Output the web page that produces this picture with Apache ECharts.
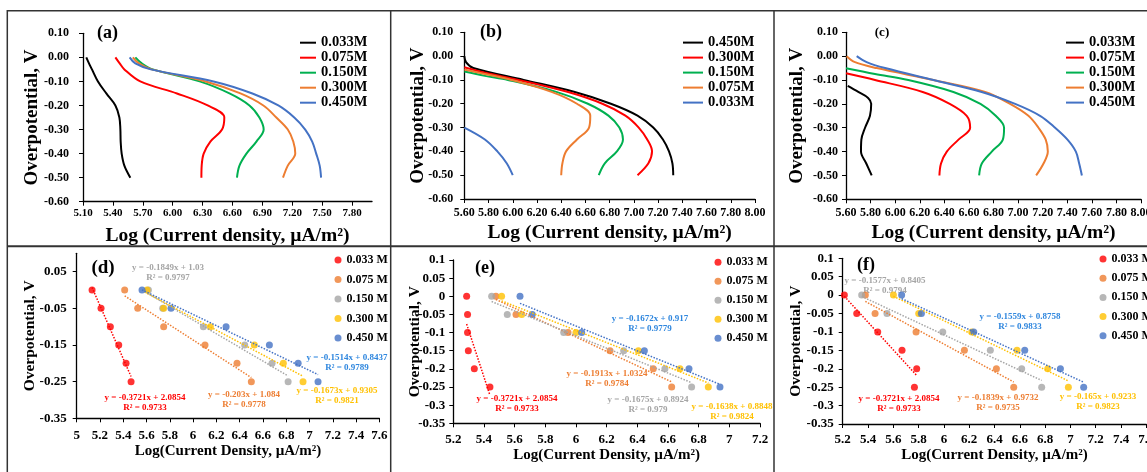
<!DOCTYPE html>
<html lang="en">
<head>
<meta charset="UTF-8">
<title>Tafel plots</title>
<script src="https://cdn.jsdelivr.net/npm/echarts@6/dist/echarts.min.js"></script>
<style>
  html, body { margin: 0; padding: 0; background: #fff; }
  #main { width: 1147px; height: 472px; }
</style>
</head>
<body>
<div id="main"></div>
<script>
// ---- data: top row curves (log current density vs overpotential) ----
// panel (a)
var aY = [0, -0.025, -0.05, -0.1, -0.15, -0.2, -0.25, -0.3, -0.35, -0.4, -0.45, -0.5];
var a033 = [5.133, 5.16, 5.19, 5.25, 5.334, 5.425, 5.465, 5.475, 5.478, 5.488, 5.515, 5.575];
var a075 = [5.425, 5.468, 5.515, 5.675, 6.043, 6.351, 6.518, 6.495, 6.378, 6.311, 6.291, 6.288];
var a150 = [5.625, 5.69, 5.8, 6.27, 6.57, 6.77, 6.87, 6.913, 6.84, 6.74, 6.67, 6.645];
var a300 = [5.60, 5.66, 5.79, 6.33, 6.68, 6.91, 7.04, 7.155, 7.21, 7.23, 7.155, 7.107];
var a450 = [5.568, 5.625, 5.78, 6.41, 6.80, 7.06, 7.22, 7.33, 7.40, 7.44, 7.475, 7.489];

// panel (b)
var b450Y = [0, -0.025, -0.05, -0.1, -0.15, -0.2, -0.25, -0.3, -0.35, -0.4, -0.45, -0.5];
var b450 = [5.60, 5.614, 5.674, 6.09, 6.505, 6.81, 7.03, 7.16, 7.24, 7.29, 7.318, 7.325];
var b300Y = [-0.047, -0.07, -0.1, -0.15, -0.2, -0.25, -0.3, -0.35, -0.4, -0.45, -0.5];
var b300 = [5.60, 5.77, 6.046, 6.45, 6.74, 6.93, 7.04, 7.11, 7.15, 7.12, 7.03];
var b150Y = [-0.065, -0.083, -0.1, -0.15, -0.2, -0.25, -0.3, -0.35, -0.4, -0.45, -0.5];
var b150 = [5.60, 5.77, 5.96, 6.36, 6.62, 6.79, 6.88, 6.91, 6.86, 6.76, 6.71];
var b075Y = [-0.056, -0.075, -0.1, -0.15, -0.2, -0.25, -0.3, -0.35, -0.4, -0.45, -0.5];
var b075 = [5.60, 5.77, 5.99, 6.32, 6.53, 6.64, 6.63, 6.53, 6.44, 6.41, 6.40];
var b033Y = [-0.3, -0.35, -0.4, -0.45, -0.5];
var b033 = [5.60, 5.77, 5.873, 5.95, 6.0];

// panel (c)
var c033Y = [-0.125, -0.15, -0.175, -0.2, -0.25, -0.3, -0.35, -0.4, -0.45, -0.5];
var c033 = [5.614, 5.70, 5.78, 5.805, 5.795, 5.755, 5.725, 5.722, 5.765, 5.809];
var c075Y = [-0.072, -0.1, -0.15, -0.2, -0.25, -0.3, -0.35, -0.4, -0.45, -0.5];
var c075 = [5.60, 5.836, 6.224, 6.444, 6.582, 6.61, 6.515, 6.42, 6.373, 6.36];
var c150Y = [-0.051, -0.075, -0.1, -0.15, -0.2, -0.25, -0.3, -0.35, -0.4, -0.45, -0.5];
var c150 = [5.60, 5.836, 6.107, 6.474, 6.694, 6.818, 6.886, 6.876, 6.786, 6.705, 6.683];
var c300Y = [0, -0.025, -0.05, -0.1, -0.15, -0.2, -0.25, -0.3, -0.35, -0.4, -0.45, -0.5];
var c300 = [5.605, 5.673, 5.85, 6.311, 6.732, 6.935, 7.084, 7.166, 7.225, 7.242, 7.207, 7.147];
var c450Y = [0, -0.025, -0.05, -0.1, -0.15, -0.2, -0.25, -0.3, -0.35, -0.4, -0.45, -0.5];
var c450 = [5.687, 5.768, 5.918, 6.311, 6.704, 6.976, 7.179, 7.301, 7.402, 7.47, 7.497, 7.519];

// ---- data: bottom row linear (Tafel) region points ----
var tafelY = [0, -0.05, -0.1, -0.15, -0.2, -0.25];
var d033 = [5.132, 5.209, 5.289, 5.361, 5.424, 5.467];
var d075 = [5.412, 5.524, 5.747, 6.102, 6.377, 6.50];
var d150 = [5.616, 5.739, 6.088, 6.443, 6.678, 6.816];
var d300 = [5.604, 5.747, 6.148, 6.526, 6.775, 6.944];
var d450 = [5.561, 5.81, 6.283, 6.655, 6.902, 7.073];

var e033 = [5.287, 5.293, 5.293, 5.298, 5.337, 5.439];
var e075 = [5.478, 5.609, 5.948, 6.222, 6.504, 6.624];
var e150 = [5.45, 5.552, 5.92, 6.311, 6.58, 6.754];
var e300 = [5.515, 5.646, 6.0, 6.407, 6.678, 6.863];
var e450 = [5.635, 5.715, 6.037, 6.446, 6.737, 6.939];

var f033 = [5.213, 5.311, 5.477, 5.669, 5.785, 5.767];
var f075 = [5.379, 5.456, 5.78, 6.162, 6.415, 6.552];
var f150 = [5.35, 5.55, 5.991, 6.367, 6.615, 6.773];
var f300 = [5.601, 5.801, 6.22, 6.578, 6.821, 6.984];
var f450 = [5.666, 5.822, 6.236, 6.639, 6.921, 7.105];

var topNames = ['0.033M', '0.075M', '0.150M', '0.300M', '0.450M'];
var botNames = ['0.033 M', '0.075 M', '0.150 M', '0.300 M', '0.450 M'];

// ---- styles ----
var FONT = 'Liberation Serif';
var BLACK = '#000000', RED = '#FF0000', GREEN = '#00B050', ORANGE = '#ED7D31', BLUE = '#4472C4';
var GRAY = '#A5A5A5', YELLOW = '#FFC000', BLUE_T = '#2E86DE';

function pairs(xs, ys) {
    return xs.map(function (x, i) { return [x, ys[i]]; });
}

// least squares line over the x range of the points, like an excel trendline
function trend(xs, ys) {
    var n = xs.length, mx = 0, my = 0, sxx = 0, sxy = 0;
    for (var i = 0; i < n; i++) { mx += xs[i] / n; my += ys[i] / n; }
    for (var j = 0; j < n; j++) {
        sxx += (xs[j] - mx) * (xs[j] - mx);
        sxy += (xs[j] - mx) * (ys[j] - my);
    }
    var k = sxy / sxx;
    var lo = Math.min.apply(null, xs), hi = Math.max.apply(null, xs);
    return [[lo, my + k * (lo - mx)], [hi, my + k * (hi - mx)]];
}

var chart = echarts.init(document.getElementById('main'));

var grids = [
    { left: 83, top: 33.3, width: 289, height: 168.4 },
    { left: 464.3, top: 32.3, width: 290.7, height: 166.7 },
    { left: 846, top: 32.3, width: 295, height: 167 },
    { left: 76.7, top: 253.3, width: 302.7, height: 165 },
    { left: 453.3, top: 260, width: 306.7, height: 163.3 },
    { left: 842.7, top: 258.3, width: 303.6, height: 165.7 }
].map(function (g) {
    g.containLabel = false;
    g.outerBoundsMode = 'none';
    return g;
});

function axisBase(idx, fs, margin) {
    return {
        gridIndex: idx,
        type: 'value',
        axisLine: { show: true, onZero: false, lineStyle: { color: '#000', width: 1.3 } },
        axisTick: { show: true, length: 4, lineStyle: { color: '#000', width: 1 } },
        axisLabel: { color: '#000', fontFamily: FONT, fontWeight: 'bold', fontSize: fs, margin: margin },
        splitLine: { show: false },
        nameLocation: 'middle',
        nameMoveOverlap: false,
        nameTextStyle: { color: '#000', fontFamily: FONT, fontWeight: 'bold' }
    };
}

function fixed2(v) { return v.toFixed(2); }

function topX(idx, min, max, interval, gap, fs, margin) {
    var a = axisBase(idx, fs, margin);
    a.min = min; a.max = max; a.interval = interval;
    a.axisLabel.formatter = fixed2;
    // 8.00 is not on the 0.3 grid of panel (a)
    a.axisLabel.showMaxLabel = interval !== 0.3;
    a.name = 'Log (Current density, µA/m²)';
    a.nameGap = gap;
    a.nameTextStyle.fontSize = 19.5;
    return a;
}
function topY(idx, gap, margin) {
    var a = axisBase(idx, 12, margin);
    a.min = -0.6; a.max = 0.1; a.interval = 0.1;
    a.axisLabel.formatter = fixed2;
    a.name = 'Overpotential, V';
    a.nameGap = gap;
    a.nameTextStyle.fontSize = 19;
    return a;
}
function botX(idx, min, max, gap, margin) {
    var a = axisBase(idx, 13, margin);
    a.min = min; a.max = max; a.interval = 0.2;
    a.name = 'Log(Current Density, µA/m²)';
    a.nameGap = gap;
    a.nameTextStyle.fontSize = 15;
    return a;
}
function botY(idx, interval, gap, margin) {
    var a = axisBase(idx, 13, margin);
    a.min = -0.35; a.max = 0.1; a.interval = interval;
    a.axisLabel.showMaxLabel = interval !== 0.1;
    a.name = 'Overpotential, V';
    a.nameGap = gap;
    a.nameTextStyle.fontSize = 15.5;
    return a;
}

var xAxes = [
    topX(0, 5.1, 8.0, 0.3, 24, 11, 6),
    topX(1, 5.6, 8.0, 0.2, 24, 12, 8),
    topX(2, 5.6, 8.0, 0.2, 24, 12, 8),
    botX(3, 5.0, 7.6, 25, 11),
    botX(4, 5.2, 7.2, 24, 10),
    botX(5, 5.2, 7.6, 24, 9)
];
var yAxes = [
    topY(0, 41, 14), topY(1, 37, 11), topY(2, 39, 8),
    botY(3, 0.1, 39, 10), botY(4, 0.05, 30, 8), botY(5, 0.05, 39, 9)
];

var series = [];
function curve(idx, name, xs, ys, color) {
    series.push({
        type: 'line', name: name, xAxisIndex: idx, yAxisIndex: idx,
        data: pairs(xs, ys), smooth: 0.35, symbol: 'none',
        lineStyle: { color: color, width: 2 }, itemStyle: { color: color }
    });
}
function tafel(idx, name, xs, color) {
    series.push({
        type: 'line', xAxisIndex: idx, yAxisIndex: idx, silent: true,
        data: trend(xs, tafelY), symbol: 'none',
        lineStyle: { color: color, width: 1.5, type: 'dotted' }
    });
    series.push({
        type: 'scatter', name: name, xAxisIndex: idx, yAxisIndex: idx,
        data: pairs(xs, tafelY), symbolSize: 7, itemStyle: { color: color }
    });
}

curve(0, topNames[0], a033, aY, BLACK);
curve(0, topNames[1], a075, aY, RED);
curve(0, topNames[2], a150, aY, GREEN);
curve(0, topNames[3], a300, aY, ORANGE);
curve(0, topNames[4], a450, aY, BLUE);

curve(1, topNames[4], b450, b450Y, BLACK);
curve(1, topNames[3], b300, b300Y, RED);
curve(1, topNames[2], b150, b150Y, GREEN);
curve(1, topNames[1], b075, b075Y, ORANGE);
curve(1, topNames[0], b033, b033Y, BLUE);

curve(2, topNames[0], c033, c033Y, BLACK);
curve(2, topNames[1], c075, c075Y, RED);
curve(2, topNames[2], c150, c150Y, GREEN);
curve(2, topNames[3], c300, c300Y, ORANGE);
curve(2, topNames[4], c450, c450Y, BLUE);

var botColors = [RED, ORANGE, GRAY, YELLOW, BLUE];
[[d033, d075, d150, d300, d450], [e033, e075, e150, e300, e450], [f033, f075, f150, f300, f450]]
    .forEach(function (set, p) {
        set.forEach(function (xs, i) { tafel(3 + p, botNames[i], xs, botColors[i]); });
    });

// legends
function topLegend(left, top, w, names, colors) {
    return {
        orient: 'vertical', left: left, top: top, padding: 0, itemGap: 0,
        itemWidth: w, itemHeight: 2, selectedMode: false,
        textStyle: { color: '#000', fontFamily: FONT, fontWeight: 'bold', fontSize: 14.5, lineHeight: 13.7 },
        data: names.map(function (n, i) {
            return { name: n, icon: 'rect', itemStyle: { color: colors[i] } };
        })
    };
}
function botLegend(left, top, gap) {
    return {
        orient: 'vertical', left: left, top: top, padding: 0, itemGap: 0,
        itemWidth: 7, itemHeight: 7, selectedMode: false,
        textStyle: { color: '#000', fontFamily: FONT, fontWeight: 'bold', fontSize: 12, lineHeight: gap },
        data: botNames.map(function (n, i) {
            return { name: n, icon: 'circle', itemStyle: { color: botColors[i] } };
        })
    };
}
var legends = [
    topLegend(300, 35.2, 16, topNames, [BLACK, RED, GREEN, ORANGE, BLUE]),
    topLegend(683, 35.1, 20, topNames.slice().reverse(), [BLACK, RED, GREEN, ORANGE, BLUE]),
    topLegend(1066, 35.1, 18, topNames, [BLACK, RED, GREEN, ORANGE, BLUE]),
    botLegend(334.5, 250.2, 19.5),
    botLegend(714.5, 252.8, 19),
    botLegend(1099.5, 249.4, 19.2)
];

// annotations
var graphics = [];
function line(x1, y1, x2, y2, w) {
    graphics.push({ type: 'line', silent: true, shape: { x1: x1, y1: y1, x2: x2, y2: y2 },
        style: { stroke: '#333', lineWidth: w } });
}
function text(t, x, y, fs, color) {
    graphics.push({ type: 'text', silent: true, x: x, y: y,
        style: { text: t, fill: color, font: 'bold ' + fs + 'px "' + FONT + '"',
            align: 'center', verticalAlign: 'middle', textAlign: 'center', textVerticalAlign: 'middle' } });
}
line(7, 10.7, 1147, 10.7, 1.5);
line(7.3, 10, 7.3, 472, 1.5);
line(390.7, 10, 390.7, 472, 1.5);
line(774, 10, 774, 472, 1.5);
line(7, 246.3, 1147, 246.3, 2);

text('(a)', 107.5, 33.5, 18, '#000');
text('(b)', 491, 32.5, 18, '#000');
text('(c)', 882, 33, 13, '#000');
text('(d)', 103, 268, 19, '#000');
text('(e)', 485, 268.3, 18, '#000');
text('(f)', 866, 265, 18, '#000');

var eqs = [
    ['y = -0.1849x + 1.03', 'R² = 0.9797', 168, 268, GRAY],
    ['y = -0.1514x + 0.8437', 'R² = 0.9789', 347, 358, BLUE_T],
    ['y = -0.3721x + 2.0854', 'R² = 0.9733', 145, 398, RED],
    ['y = -0.203x + 1.084', 'R² = 0.9778', 244, 395, ORANGE],
    ['y = -0.1673x + 0.9305', 'R² = 0.9821', 337, 391, YELLOW],
    ['y = -0.1672x + 0.917', 'R² = 0.9779', 650, 319, BLUE_T],
    ['y = -0.1913x + 1.0324', 'R² = 0.9784', 607, 374, ORANGE],
    ['y = -0.3721x + 2.0854', 'R² = 0.9733', 517, 399, RED],
    ['y = -0.1675x + 0.8924', 'R² = 0.979', 648, 400, GRAY],
    ['y = -0.1638x + 0.8848', 'R² = 0.9824', 732, 407, YELLOW],
    ['y = -0.1577x + 0.8405', 'R² = 0.9794', 885, 281, GRAY],
    ['y = -0.1559x + 0.8758', 'R² = 0.9833', 1020, 317, BLUE_T],
    ['y = -0.3721x + 2.0854', 'R² = 0.9733', 899, 399, RED],
    ['y = -0.1839x + 0.9732', 'R² = 0.9735', 998, 398, ORANGE],
    ['y = -0.165x + 0.9233', 'R² = 0.9823', 1098, 397, YELLOW]
];
eqs.forEach(function (q) {
    text(q[0], q[2], q[3], 9, q[4]);
    text(q[1], q[2], q[3] + 9.5, 9, q[4]);
});

var option = {
    backgroundColor: '#fff',
    animation: false,
    grid: grids,
    xAxis: xAxes,
    yAxis: yAxes,
    legend: legends,
    series: series,
    graphic: graphics
};
chart.setOption(option);
</script>
</body>
</html>
